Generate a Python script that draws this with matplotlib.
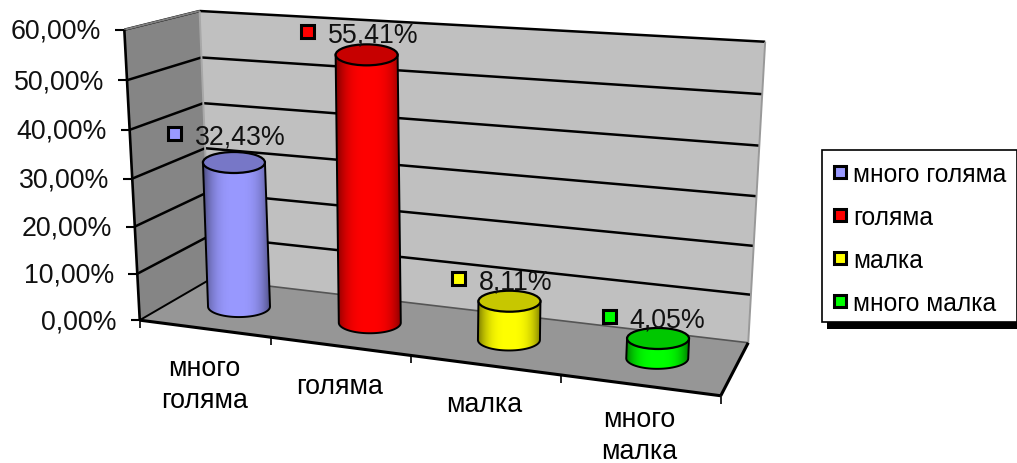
import numpy as np
import matplotlib
matplotlib.use('Agg')
import matplotlib.pyplot as plt
from matplotlib.patches import Polygon, Rectangle, Ellipse

plt.rcParams['font.family'] = ['Liberation Sans', 'DejaVu Sans']

categories = ['много\nголяма', 'голяма', 'малка', 'много\nмалка']
legend_names = ['много голяма', 'голяма', 'малка', 'много малка']
values = [32.43, 55.41, 8.11, 4.05]
value_labels = ['32,43%', '55,41%', '8,11%', '4,05%']
colors = ['#9999FF', '#FF0000', '#FFFF00', '#00FF00']
y_ticks = [0, 10, 20, 30, 40, 50, 60]
y_tick_labels = ['0,00%', '10,00%', '20,00%', '30,00%', '40,00%', '50,00%', '60,00%']

# box corners (category pos, depth, value) -> pixel, used to fit the projection
box_3d = [(0, 0, 0), (4, 0, 0), (0, 1, 0), (4, 1, 0), (0, 0, 60), (0, 1, 60), (4, 1, 60),
          (1, 0, 0), (2, 0, 0), (3, 0, 0), (0, 0, 30), (0, 1, 30), (4, 1, 30)]
box_px = [(141, 321), (721, 397), (210, 281), (748, 343), (125, 31), (200, 12), (765, 43),
          (272, 338), (411, 356), (560, 377), (130, 179), (205, 149), (757, 197)]

# small placement nudges for the labels and the first cylinder's height
label_dx = [-59, -59, -51, -49]
label_dy = [-29, -23, -23, -22]
name_dy = [26, 26.5, 26, 21]
height_scale = [0.965, 1, 1, 1]


def fit_projection(pts3, pts2):
    rows = []
    rhs = []
    for (a, b, c), (x, y) in zip(pts3, pts2):
        rows.append([a, b, c, 1, 0, 0, 0, 0, -x * a, -x * b, -x * c])
        rhs.append(x)
        rows.append([0, 0, 0, 0, a, b, c, 1, -y * a, -y * b, -y * c])
        rhs.append(y)
    sol = np.linalg.lstsq(np.array(rows, float), np.array(rhs, float), rcond=None)[0]
    return np.append(sol, 1).reshape(3, 4)


P = fit_projection(box_3d, box_px)


def proj(u, d, v):
    p = P @ np.array([u, d, v, 1.0])
    return p[0] / p[2], p[1] / p[2]


def draw_cylinder(ax, i, value, color):
    cx0, cy0 = proj(i + 0.5, 0.5, 0)
    cx1, cy1 = proj(i + 0.5, 0.5, value * height_scale[i])
    rw = 31
    rh = 10.5
    t = np.linspace(0, np.pi, 40)
    # body outline: top edge straight across, bottom edge curved
    lower = np.column_stack([cx0 + rw * np.cos(t), cy0 + rh * np.sin(t)])
    outline = np.vstack([[cx1 - rw, cy1], [cx1 + rw, cy1], lower])
    body = Polygon(outline, closed=True, fc='none', ec='black', lw=1.4, zorder=5)
    ax.add_patch(body)

    # left-right shading of the side
    base = np.array(matplotlib.colors.to_rgb(color))
    s = np.linspace(-1, 1, 80)
    shade = 1 - 0.5 * np.abs(s) ** 3
    img = (base[None, :] * shade[:, None])[None, :, :]
    left = min(cx0, cx1) - rw
    right = max(cx0, cx1) + rw
    im = ax.imshow(img, extent=(left, right, cy0 + rh, cy1), aspect='auto', zorder=4)
    im.set_clip_path(Polygon(outline, closed=True, transform=ax.transData))

    top = Ellipse((cx1, cy1), 2 * rw, 2 * rh, fc=base * 0.78, ec='black', lw=1.6, zorder=6)
    ax.add_patch(top)
    return cx1, cy1


def main():
    fig = plt.figure(figsize=(10.17, 4.64), dpi=100)
    ax = fig.add_axes([0, 0, 1, 1])

    # walls and floor
    ax.add_patch(Polygon([proj(0, 0, 0), proj(0, 1, 0), proj(0, 1, 60), proj(0, 0, 60)], fc='#858585', ec='none'))
    ax.add_patch(Polygon([proj(0, 1, 0), proj(4, 1, 0), proj(4, 1, 60), proj(0, 1, 60)], fc='#C0C0C0', ec='none'))
    ax.add_patch(Polygon([proj(0, 0, 0), proj(4, 0, 0), proj(4, 1, 0), proj(0, 1, 0)], fc='#969696', ec='none'))

    def seg(a, b, **kw):
        ax.plot([a[0], b[0]], [a[1], b[1]], solid_capstyle='butt', **kw)

    # gridlines
    for v in y_ticks[1:]:
        seg(proj(0, 0, v), proj(0, 1, v), color='black', lw=1.8, zorder=2)
        seg(proj(0, 1, v), proj(4, 1, v), color='black', lw=1.8, zorder=2)
    seg(proj(0, 1, 0), proj(0, 0, 0), color='black', lw=1.4, zorder=2)
    seg(proj(0, 1, 0), proj(4, 1, 0), color='#555555', lw=1.2, zorder=2)
    seg(proj(4, 1, 0), proj(4, 1, 60), color='#999999', lw=1.4, zorder=2)
    seg(proj(0, 1, 0), proj(0, 1, 60), color='#A8A8A8', lw=1.4, zorder=2)
    seg(proj(0, 0, 60), proj(0, 1, 60), color='#808080', lw=1.4, zorder=2)

    # axes and ticks
    seg(proj(0, 0, 0), proj(0, 0, 60), color='black', lw=1.9, zorder=3)
    seg(proj(0, 0, 0), proj(4, 0, 0), color='black', lw=2.2, zorder=3)
    seg(proj(4, 0, 0), proj(4, 1, 0), color='black', lw=2.2, zorder=3)
    for v, lab in zip(y_ticks, y_tick_labels):
        x, y = proj(0, 0, v)
        seg((x - 9, y), (x, y), color='black', lw=1.5, zorder=3)
        ax.text(x - 23, y + 1, lab, ha='right', va='center', fontsize=19.3, color='#111111')
    for i in range(5):
        x, y = proj(i, 0, 0)
        seg((x, y), (x, y + 8), color='black', lw=1.2, zorder=3)

    for i, (name, value, lab, color) in enumerate(zip(categories, values, value_labels, colors)):
        cx, cy = draw_cylinder(ax, i, value, color)
        sx = cx + label_dx[i]
        sy = cy + label_dy[i]
        ax.add_patch(Rectangle((sx - 6.5, sy - 6.5), 13, 13, fc=color, ec='black', lw=2.2, zorder=7))
        ax.text(sx + 20, sy + 3, lab, ha='left', va='center', fontsize=19.3, color='#111111', zorder=8)
        lx, ly = proj(i + 0.5, 0, 0)
        ax.text(lx, ly + name_dy[i], name, ha='center', va='top', fontsize=19.3, color='black', linespacing=1.3)

    # legend
    ax.add_patch(Rectangle((827, 157), 195, 173, fc='black', ec='none', zorder=9))
    ax.add_patch(Rectangle((822, 151), 195, 172, fc='white', ec='black', lw=1.2, zorder=10))
    for name, color, y in zip(legend_names, colors, [173, 216, 259, 302]):
        ax.add_patch(Rectangle((833.5, y - 6), 12, 12, fc=color, ec='black', lw=2.2, zorder=11))
        ax.text(853, y + 2, name, ha='left', va='center', fontsize=17.7, color='black', zorder=11)

    ax.set_xlim(0, 1017)
    ax.set_ylim(464, 0)
    ax.axis('off')
    fig.savefig('out.png', dpi=100)


if __name__ == "__main__":
    main()
